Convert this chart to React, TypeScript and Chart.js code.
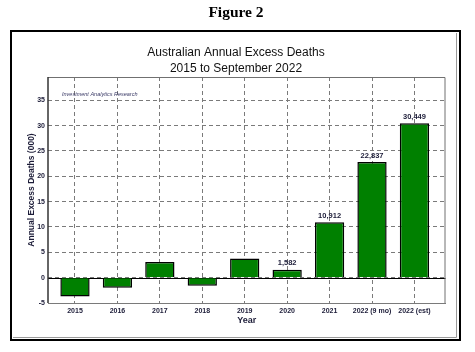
import React, { useEffect, useRef } from "react";
import { Chart, registerables } from "chart.js";

Chart.register(...registerables);

const categories = ["2015", "2016", "2017", "2018", "2019", "2020", "2021", "2022 (9 mo)", "2022 (est)"];
const excessDeaths = [-3.7, -2.0, 3.1, -1.6, 3.8, 1.582, 10.912, 22.837, 30.449];
const showValueLabel = [false, false, false, false, false, true, true, true, true];
const yTickValues = [-5, 0, 5, 10, 15, 20, 25, 30, 35];

const figureTitle = "Figure 2";
const chartTitle = ["Australian Annual Excess Deaths", "2015 to September 2022"];
const watermark = "Investment Analytics Research";
const yAxisTitle = "Annual Excess Deaths (000)";
const xAxisTitle = "Year";

const W = 475;
const H = 352;

const decorPlugin = {
  id: "decor",
  beforeDraw(chart: any) {
    const ctx = chart.ctx;
    ctx.save();
    ctx.fillStyle = "#ffffff";
    ctx.fillRect(0, 0, W, H);
    // Figure caption
    ctx.fillStyle = "#000000";
    ctx.font = "bold 15.5px 'Liberation Serif'";
    ctx.textAlign = "center";
    ctx.textBaseline = "middle";
    ctx.fillText(figureTitle, 236, 13);
    // Frame
    ctx.strokeStyle = "#000000";
    ctx.lineWidth = 2;
    ctx.strokeRect(11, 31, 449, 309);
    ctx.strokeStyle = "#9a9a9a";
    ctx.lineWidth = 1;
    ctx.beginPath();
    ctx.moveTo(456.5, 33);
    ctx.lineTo(456.5, 337.5);
    ctx.lineTo(13, 337.5);
    ctx.stroke();
    // Chart title
    ctx.fillStyle = "#111111";
    ctx.font = "12px 'Liberation Sans'";
    ctx.fillText(chartTitle[0], 236, 53);
    ctx.fillText(chartTitle[1], 236, 69);
    ctx.restore();
  },
  beforeDatasetsDraw(chart: any) {
    const ctx = chart.ctx;
    const { left, right, top, bottom } = chart.chartArea;
    const y = chart.scales.y;
    ctx.save();
    // zero line
    ctx.strokeStyle = "#000000";
    ctx.lineWidth = 1;
    const y0 = Math.round(y.getPixelForValue(0)) + 0.5;
    ctx.beginPath();
    ctx.moveTo(left, y0);
    ctx.lineTo(right, y0);
    ctx.stroke();
    // plot border top/right
    ctx.strokeStyle = "#707070";
    ctx.beginPath();
    ctx.moveTo(left, top + 0.5);
    ctx.lineTo(right - 0.5, top + 0.5);
    ctx.lineTo(right - 0.5, bottom);
    ctx.stroke();
    // left border
    ctx.strokeStyle = "#333333";
    ctx.lineWidth = 1.5;
    ctx.beginPath();
    ctx.moveTo(left, top);
    ctx.lineTo(left, bottom);
    ctx.stroke();
    // watermark
    ctx.fillStyle = "#3a3a66";
    ctx.font = "italic 5.5px 'Liberation Sans'";
    ctx.textAlign = "left";
    ctx.textBaseline = "middle";
    ctx.fillText(watermark, left + 14, 94);
    ctx.restore();
  },
  afterDatasetsDraw(chart: any) {
    const ctx = chart.ctx;
    const meta = chart.getDatasetMeta(0);
    ctx.save();
    ctx.fillStyle = "#1c1c38";
    ctx.font = "bold 7.5px 'Liberation Sans'";
    ctx.textAlign = "center";
    ctx.textBaseline = "bottom";
    meta.data.forEach((el: any, i: number) => {
      if (!showValueLabel[i]) return;
      const txt = Math.round(excessDeaths[i] * 1000).toLocaleString("en-US");
      ctx.fillText(txt, el.x, el.y - 2.5);
    });
    ctx.restore();
  },
};

export default function App() {
  const ref = useRef<HTMLCanvasElement | null>(null);
  useEffect(() => {
    if (!ref.current) return;
    const chart = new Chart(ref.current, {
      type: "bar",
      data: {
        datasets: [
          {
            data: excessDeaths.map((v, i) => ({ x: i, y: v })),
            backgroundColor: "#008000",
            borderColor: "#000000",
            borderWidth: 1.5,
            barPercentage: 0.69,
            categoryPercentage: 1,
          },
        ],
      },
      options: {
        animation: false,
        responsive: false,
        devicePixelRatio: 1,
        layout: { padding: { left: 10, right: 29.5, top: 77, bottom: 23 } },
        plugins: { legend: { display: false }, title: { display: false }, tooltip: { enabled: false } },
        scales: {
          x: {
            type: "linear",
            min: -0.636,
            max: 8.732,
            offset: false,
            afterFit(scale: any) {
              scale.height = 26;
            },
            grid: { offset: false, color: "#7a7a7a", lineWidth: 1, drawTicks: false },
            border: { display: true, color: "#7a7a7a", dash: [4, 3] },
            ticks: {
              stepSize: 1,
              includeBounds: false,
              autoSkip: false,
              maxRotation: 0,
              padding: 4,
              color: "#1c1c38",
              font: { family: "'Liberation Sans'", size: 7, weight: "bold" },
              callback: (v: any) => categories[v as number] ?? "",
            },
            title: {
              display: true,
              text: xAxisTitle,
              color: "#1c1c38",
              font: { family: "'Liberation Sans'", size: 9, weight: "bold" },
              padding: { top: 0, bottom: 3.5 },
            },
          },
          y: {
            min: -5,
            max: 39.6,
            afterFit(scale: any) {
              scale.width = 38;
            },
            afterBuildTicks(scale: any) {
              scale.ticks = yTickValues.map((v) => ({ value: v }));
            },
            grid: { color: "#7a7a7a", lineWidth: 1, drawTicks: false },
            border: { display: false, dash: [4, 3] },
            ticks: {
              stepSize: 5,
              padding: 3,
              color: "#1c1c38",
              font: { family: "'Liberation Sans'", size: 7, weight: "bold" },
            },
            title: {
              display: true,
              text: yAxisTitle,
              color: "#1c1c38",
              font: { family: "'Liberation Sans'", size: 8.5, weight: "bold" },
              padding: { top: 17, bottom: 0 },
            },
          },
        },
      },
      plugins: [decorPlugin],
    } as any);
    return () => chart.destroy();
  }, []);
  return (
    <div style={{ position: "absolute", left: 0, top: 0, width: W, height: H }}>
      <canvas ref={ref} width={W} height={H} style={{ display: "block", width: W, height: H }} />
    </div>
  );
}
